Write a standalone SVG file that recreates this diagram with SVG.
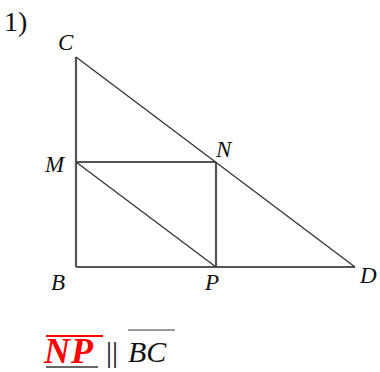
<svg xmlns="http://www.w3.org/2000/svg" width="380" height="372" viewBox="0 0 380 372">
<style>
.lbl{font-family:"Liberation Serif",serif;font-style:italic;font-size:23px;fill:#111}
.thick{stroke:#555;stroke-width:2.2;fill:none}
.thin{stroke:#333;stroke-width:1.3;fill:none}
</style>
<rect width="380" height="372" fill="#fff"/>
<text x="4" y="31" font-family="'Liberation Serif',serif" font-size="28" fill="#111">1)</text>
<g id="connectors">
<line class="thick" x1="76" y1="57" x2="76" y2="267"/>
<line class="thick" x1="76" y1="267" x2="355" y2="267"/>
<line class="thick" x1="76" y1="162" x2="216" y2="162"/>
<line class="thick" x1="216" y1="162" x2="216" y2="267"/>
<line class="thin" x1="76" y1="57" x2="355" y2="267"/>
<line class="thin" x1="76" y1="162" x2="216" y2="267"/>
</g>
<g id="C"><text class="lbl" x="58" y="50">C</text></g>
<g id="M"><text class="lbl" x="45" y="172">M</text></g>
<g id="N"><text class="lbl" x="216" y="157">N</text></g>
<g id="B"><text class="lbl" x="51" y="290">B</text></g>
<g id="P"><text class="lbl" x="205" y="290">P</text></g>
<g id="D"><text class="lbl" x="360" y="283">D</text></g>
<g id="formula">
<line x1="46" y1="336" x2="103" y2="336" stroke="#f00" stroke-width="2.2"/>
<text x="44" y="363" font-family="'Liberation Serif',serif" font-style="italic" font-weight="bold" font-size="36" fill="#f00" letter-spacing="1">NP</text>
<line x1="46" y1="367" x2="98" y2="367" stroke="#333" stroke-width="1.6"/>
<text x="106" y="362" font-family="'Liberation Serif',serif" font-size="30" fill="#111">||</text>
<line x1="128" y1="330" x2="175" y2="330" stroke="#777" stroke-width="1.6"/>
<text x="128" y="362" font-family="'Liberation Serif',serif" font-style="italic" font-size="30" fill="#111">BC</text>
</g>
</svg>
